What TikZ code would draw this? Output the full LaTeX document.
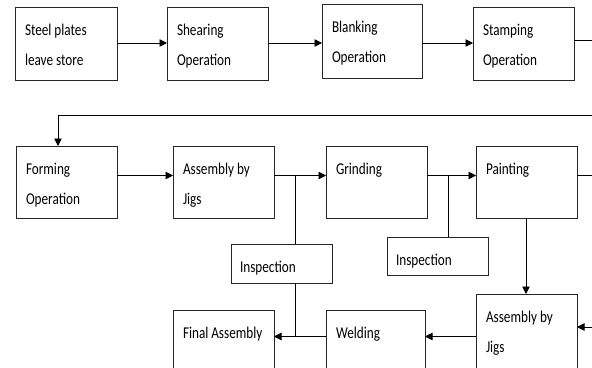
\documentclass[tikz,border=0pt]{standalone}
\usepackage{fontspec}
\setmainfont{Carlito}[FakeStretch=0.8]
\usetikzlibrary{arrows.meta}
\begin{document}
\begin{tikzpicture}[x=1pt,y=-1pt,
  box/.style={draw=black!85, line width=0.9pt, anchor=north west, inner sep=0pt, outer sep=0pt, minimum width=101pt, minimum height=73pt},
  txt/.style={anchor=base west, inner sep=0pt, outer sep=0pt, align=left, font=\fontsize{16.5}{30}\selectfont},
  conn/.style={line width=0.8pt, draw=black},
  arr/.style={conn, -{Triangle[length=7.5pt,width=7.5pt]}}]
\useasboundingbox (0,0) rectangle (592,367);
\fill[white] (0,0) rectangle (592,367);
\clip (0,0) rectangle (592,367);
% boxes
\node[box, minimum width=102pt] (b1) at (15,7) {};
\node[box] (b2) at (167,7) {};
\node[box, minimum width=100pt, minimum height=74pt] (b3) at (322,4) {};
\node[box] (b4) at (473,7) {};
\node[box, minimum height=72pt] (f) at (16,146) {};
\node[box, minimum height=72pt] (aj) at (173,146) {};
\node[box, minimum height=72pt] (g) at (326,146) {};
\node[box, minimum height=72pt] (p) at (476,146) {};
\node[box, minimum height=39pt] (i1) at (231,244) {};
\node[box, minimum height=38pt] (i2) at (387,237) {};
\node[box, minimum height=80pt] (fa) at (173,310) {};
\node[box, minimum width=99pt, minimum height=80pt] (w) at (326,310) {};
\node[box, minimum height=80pt] (aj2) at (476,294) {};
% texts (base anchor = baseline of the last line)
\node[txt] (t1) at ([shift={(10,58)}]b1.north west) {Steel plates\\leave store};
\node[txt] (t2) at ([shift={(10,58)}]b2.north west) {Shearing\\Operation};
\node[txt] (t3) at ([shift={(10,58)}]b3.north west) {Blanking\\Operation};
\node[txt] (t4) at ([shift={(10,58)}]b4.north west) {Stamping\\Operation};
\node[txt] (tf) at ([shift={(10,58)}]f.north west) {Forming\\Operation};
\node[txt] (taj) at ([shift={(10,58)}]aj.north west) {Assembly by\\Jigs};
\node[txt] (tg) at ([shift={(10,28)}]g.north west) {Grinding};
\node[txt] (tp) at ([shift={(10,28)}]p.north west) {Painting};
\node[txt] (ti1) at ([shift={(9,28)}]i1.north west) {Inspection};
\node[txt] (ti2) at ([shift={(9,28)}]i2.north west) {Inspection};
\node[txt] (tfa) at ([shift={(10,28)}]fa.north west) {Final Assembly};
\node[txt] (tw) at ([shift={(10,28)}]w.north west) {Welding};
\node[txt] (taj2) at ([shift={(10,58)}]aj2.north west) {Assembly by\\Jigs};
% helper coordinates
\coordinate (rowT) at (0,43);
\coordinate (r1) at (600,40);
\coordinate (r2) at (600,115);
\coordinate (fk) at (58,115);
\coordinate (rowA) at (0,175.5);
\coordinate (j1) at (295,175.5);
\coordinate (j2) at (448,175.5);
\coordinate (r4) at (600,175.5);
\coordinate (pd) at (526,0);
\coordinate (r3) at (600,327);
\coordinate (rowC) at (0,336.5);
% connectors
\draw[arr] (b1.east |- rowT) -- (b2.west |- rowT);
\draw[arr] (b2.east |- rowT) -- (b3.west |- rowT);
\draw[arr] (b3.east |- rowT) -- (b4.west |- rowT);
\draw[arr] (b4.east |- r1) -- (r1) -- (r2) -- (fk) -- (fk |- f.north);
\draw[arr] (f.east |- rowA) -- (aj.west |- rowA);
\draw[arr] (aj.east |- rowA) -- (g.west |- rowA);
\draw[arr] (g.east |- rowA) -- (p.west |- rowA);
\draw[conn] (p.east |- rowA) -- (r4);
\draw[conn] (j1) -- (j1 |- i1.north);
\draw[conn] (j1 |- i1.south) -- (j1 |- rowC);
\draw[conn] (j2) -- (j2 |- i2.north);
\draw[arr] (pd |- p.south) -- (pd |- aj2.north);
\draw[arr] (r3) -- (aj2.east |- r3);
\draw[arr] (aj2.west |- rowC) -- (w.east |- rowC);
\draw[arr] (w.west |- rowC) -- (fa.east |- rowC);
\end{tikzpicture}
\end{document}
